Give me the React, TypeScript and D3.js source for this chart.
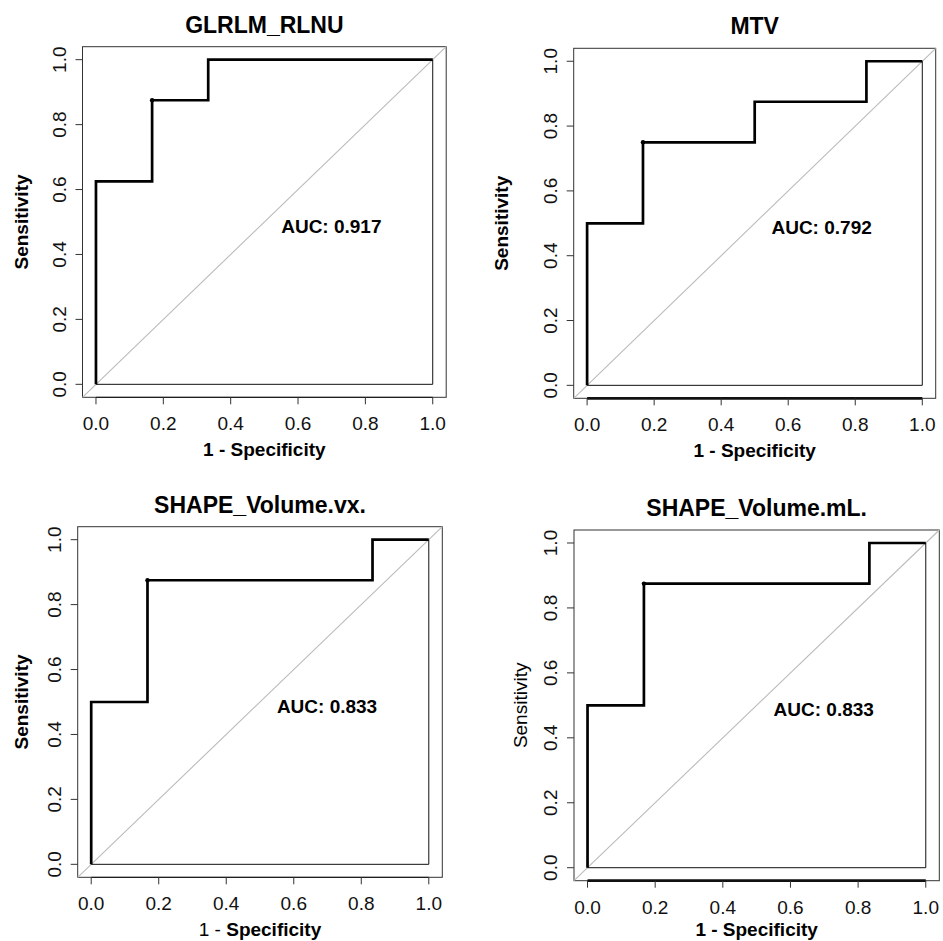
import React from "react";
import * as d3 from "d3";

// ROC step curves, corner points (1 - specificity, sensitivity)
const glrlmFpr = [0, 0, 0.1667, 0.1667, 0.3333, 0.3333, 1];
const glrlmTpr = [0, 0.625, 0.625, 0.875, 0.875, 1, 1];

const mtvFpr = [0, 0, 0.1667, 0.1667, 0.5, 0.5, 0.8333, 0.8333, 1];
const mtvTpr = [0, 0.5, 0.5, 0.75, 0.75, 0.875, 0.875, 1, 1];

const volVxFpr = [0, 0, 0.1667, 0.1667, 0.8333, 0.8333, 1];
const volVxTpr = [0, 0.5, 0.5, 0.875, 0.875, 1, 1];

const volMlFpr = [0, 0, 0.1667, 0.1667, 0.8333, 0.8333, 1];
const volMlTpr = [0, 0.5, 0.5, 0.875, 0.875, 1, 1];

// best threshold point per panel
const bestFpr = [0.1667, 0.1667, 0.1667, 0.1667];
const bestTpr = [0.875, 0.75, 0.875, 0.875];

const titles = ["GLRLM_RLNU", "MTV", "SHAPE_Volume.vx.", "SHAPE_Volume.mL."];
const aucLabels = ["AUC: 0.917", "AUC: 0.792", "AUC: 0.833", "AUC: 0.833"];
const tickValues = [0, 0.2, 0.4, 0.6, 0.8, 1];
const tickLabels = ["0.0", "0.2", "0.4", "0.6", "0.8", "1.0"];

const FONT = "'Liberation Sans', Arial, Helvetica, sans-serif";

type PanelProps = {
  box: [number, number, number, number]; // left, right, top, bottom
  fpr: number[];
  tpr: number[];
  best: [number, number];
  title: string;
  auc: string;
  ylabOffset: number;
  ylabBold: boolean;
  xlabSplit: boolean;
  xlabOffset: number;
  thickAxis: boolean;
};

const Panel = ({ box, fpr, tpr, best, title, auc, ylabOffset, ylabBold, xlabSplit, xlabOffset, thickAxis }: PanelProps) => {
  const [left, right, top, bottom] = box;
  const x = d3.scaleLinear().domain([-0.04, 1.04]).range([left, right]);
  const y = d3.scaleLinear().domain([-0.04, 1.04]).range([bottom, top]);
  const line = d3
    .line<[number, number]>()
    .x((d) => x(d[0]))
    .y((d) => y(d[1]));

  const curve: [number, number][] = fpr.map((f, i) => [f, tpr[i]]);
  const frame: [number, number][] = [
    [0, 0],
    [1, 0],
    [1, 1],
  ];
  const cy = (top + bottom) / 2;

  return (
    <g fontFamily={FONT}>
      <text x={(left + right) / 2} y={top - 14} textAnchor="middle" fontWeight="bold" fontSize={23}>
        {title}
      </text>
      <rect x={left} y={top} width={right - left} height={bottom - top} fill="none" stroke="#333" strokeWidth={1} />
      {/* chance line */}
      <line x1={x(-0.04)} y1={y(-0.04)} x2={x(1.04)} y2={y(1.04)} stroke="#bbb" strokeWidth={1.1} />
      <path d={line(frame) || ""} fill="none" stroke="#111" strokeWidth={1} />
      <path d={line(curve) || ""} fill="none" stroke="#000" strokeWidth={2.7} />
      <circle cx={x(best[0])} cy={y(best[1])} r={2.2} fill="#000" />
      <text x={x(0.55)} y={y(0.5) + 11} fontWeight="bold" fontSize={19}>
        {auc}
      </text>

      {/* x axis */}
      <line x1={x(0)} x2={x(1)} y1={bottom} y2={bottom} stroke="#111" strokeWidth={thickAxis ? 2.7 : 1} />
      {tickValues.map((t, i) => (
        <g key={"xt" + i}>
          <line x1={x(t)} x2={x(t)} y1={bottom} y2={bottom + 7} stroke="#333" strokeWidth={1} />
          <text x={x(t)} y={bottom + 33} textAnchor="middle" fontSize={19} fill="#111">
            {tickLabels[i]}
          </text>
        </g>
      ))}
      <text x={(left + right) / 2} y={bottom + xlabOffset} textAnchor="middle" fontSize={19}>
        {xlabSplit ? (
          <>
            <tspan>1 - </tspan>
            <tspan fontWeight="bold">Specificity</tspan>
          </>
        ) : (
          <tspan fontWeight="bold">1 - Specificity</tspan>
        )}
      </text>

      {/* y axis */}
      {tickValues.map((t, i) => (
        <g key={"yt" + i}>
          <line x1={left} x2={left - 7} y1={y(t)} y2={y(t)} stroke="#333" strokeWidth={1} />
          <text
            transform={`translate(${left - 17},${y(t)}) rotate(-90)`}
            textAnchor="middle"
            fontSize={19}
            fill="#111"
          >
            {tickLabels[i]}
          </text>
        </g>
      ))}
      <text
        transform={`translate(${left + ylabOffset},${cy}) rotate(-90)`}
        textAnchor="middle"
        fontSize={19}
        fontWeight={ylabBold ? "bold" : "normal"}
      >
        Sensitivity
      </text>
    </g>
  );
};

export default function App() {
  return (
    <svg
      width={943}
      height={941}
      style={{ position: "absolute", left: 0, top: 0, background: "#fff" }}
    >
      <rect width={943} height={941} fill="#fff" />
      <Panel
        box={[82.5, 446.2, 46.7, 397.3]}
        fpr={glrlmFpr}
        tpr={glrlmTpr}
        best={[bestFpr[0], bestTpr[0]]}
        title={titles[0]}
        auc={aucLabels[0]}
        ylabOffset={-55}
        ylabBold={true}
        xlabSplit={false}
        xlabOffset={59}
        thickAxis={false}
      />
      <Panel
        box={[573.7, 935.7, 48.3, 398.3]}
        fpr={mtvFpr}
        tpr={mtvTpr}
        best={[bestFpr[1], bestTpr[1]]}
        title={titles[1]}
        auc={aucLabels[1]}
        ylabOffset={-66}
        ylabBold={true}
        xlabSplit={false}
        xlabOffset={59}
        thickAxis={true}
      />
      <Panel
        box={[77.7, 442.3, 526.7, 877.3]}
        fpr={volVxFpr}
        tpr={volVxTpr}
        best={[bestFpr[2], bestTpr[2]]}
        title={titles[2]}
        auc={aucLabels[2]}
        ylabOffset={-50}
        ylabBold={true}
        xlabSplit={true}
        xlabOffset={59}
        thickAxis={false}
      />
      <Panel
        box={[574, 939.3, 530, 880.7]}
        fpr={volMlFpr}
        tpr={volMlTpr}
        best={[bestFpr[3], bestTpr[3]]}
        title={titles[3]}
        auc={aucLabels[3]}
        ylabOffset={-47}
        ylabBold={false}
        xlabSplit={false}
        xlabOffset={55}
        thickAxis={true}
      />
    </svg>
  );
}
